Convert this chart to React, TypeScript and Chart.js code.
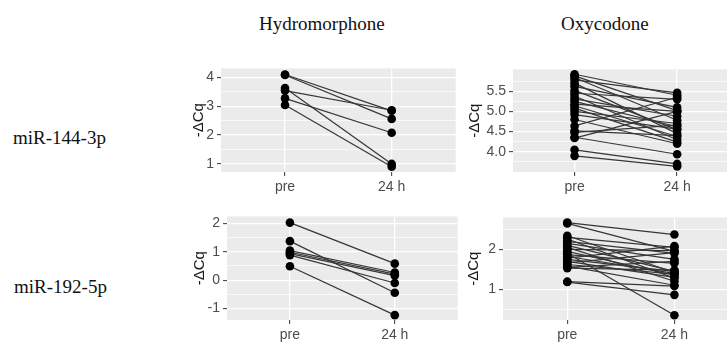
import React, { useEffect, useRef } from "react";
import { Chart, registerables } from "chart.js";
Chart.register(...registerables);

// ---- text ----
const timeLabels = ["pre", "24 h"];
const drugTitles = ["Hydromorphone", "Oxycodone"];
const mirnaLabels = ["miR-144-3p", "miR-192-5p"];
const yTitle = "-ΔCq";

// ---- data (paired: pre[i] -> post[i]) ----
const hydro144Pre = [4.10, 4.08, 3.63, 3.54, 3.27, 3.04];
const hydro144Post = [2.84, 2.56, 1.00, 2.86, 2.08, 0.90];

const oxy144Pre = [5.92, 5.88, 5.84, 5.78, 5.70, 5.62, 5.52, 5.45, 5.38, 5.31, 5.25, 5.18, 5.14, 5.08, 5.00, 4.92, 4.80, 4.64, 4.52, 4.48, 4.36, 4.34, 4.05, 3.90];
const oxy144Post = [5.40, 5.02, 4.78, 5.46, 4.45, 5.10, 4.55, 5.30, 4.30, 4.88, 4.62, 5.00, 4.38, 4.24, 4.70, 4.56, 4.20, 5.35, 4.40, 4.66, 3.94, 5.00, 3.70, 3.64];

const hydro192Pre = [2.02, 1.37, 1.04, 0.98, 0.93, 0.88, 0.49];
const hydro192Post = [0.58, -0.44, 0.27, 0.21, 0.16, -0.10, -1.23];

const oxy192Pre = [2.67, 2.65, 2.34, 2.30, 2.26, 2.20, 2.15, 2.10, 2.05, 2.00, 1.95, 1.90, 1.87, 1.82, 1.78, 1.75, 1.70, 1.66, 1.62, 1.58, 1.55, 1.53, 1.19, 1.18];
const oxy192Post = [2.37, 1.95, 1.42, 2.05, 1.28, 1.90, 1.75, 1.45, 1.20, 1.97, 1.35, 0.35, 1.65, 1.40, 2.08, 1.45, 1.30, 1.92, 1.38, 1.10, 1.70, 1.48, 1.08, 0.86];

// ---- axis ticks & limits ----
const hydro144Major = [1, 2, 3, 4];
const hydro144Minor = [1.5, 2.5, 3.5];
const hydro144Range = [0.72, 4.31];

const oxy144Major = [4.0, 4.5, 5.0, 5.5];
const oxy144Minor = [3.75, 4.25, 4.75, 5.25, 5.75];
const oxy144Range = [3.50, 6.04];

const hydro192Major = [-1, 0, 1, 2];
const hydro192Minor = [-0.5, 0.5, 1.5];
const hydro192Range = [-1.40, 2.24];

const oxy192Major = [1, 2];
const oxy192Minor = [0.5, 1.5, 2.5];
const oxy192Range = [0.23, 2.80];

const xPositions = [0, 1];
const xRange = [-0.6, 1.6];

const SANS = "'Liberation Sans', Arial, sans-serif";
const SERIF = "'Liberation Serif', 'Times New Roman', serif";

const panelBg = {
  id: "panelBg",
  beforeDraw(chart: any) {
    const { ctx, chartArea } = chart;
    ctx.save();
    ctx.fillStyle = "#EBEBEB";
    ctx.fillRect(chartArea.left, chartArea.top, chartArea.right - chartArea.left, chartArea.bottom - chartArea.top);
    ctx.restore();
  },
};

type PanelProps = {
  pre: number[];
  post: number[];
  major: number[];
  minor: number[];
  range: number[];
  decimals: number;
  left: number;
  top: number;
  width: number;
  height: number;
  axisW: number;
};

function Panel(p: PanelProps) {
  const ref = useRef<HTMLCanvasElement | null>(null);
  useEffect(() => {
    if (!ref.current) return;
    const lines = p.pre.map((v, i) => ({
      data: [
        { x: xPositions[0], y: v },
        { x: xPositions[1], y: p.post[i] },
      ],
      showLine: true,
      borderColor: "#363636",
      borderWidth: 1.2,
      pointRadius: 0,
    }));
    const pts = {
      data: [
        ...p.pre.map((v) => ({ x: xPositions[0], y: v })),
        ...p.post.map((v) => ({ x: xPositions[1], y: v })),
      ],
      showLine: false,
      pointRadius: 4.3,
      pointBackgroundColor: "#000",
      pointBorderColor: "#000",
      pointBorderWidth: 0,
    };
    const isMinor = (v: number) => p.minor.some((m) => Math.abs(m - v) < 1e-9);
    const chart = new Chart(ref.current, {
      type: "scatter",
      data: { datasets: [pts as any, ...lines] },
      plugins: [panelBg],
      options: {
        animation: false,
        responsive: false,
        devicePixelRatio: 1,
        events: [],
        layout: { padding: { top: 8, right: 2, left: 0, bottom: 0 } },
        plugins: { legend: { display: false }, tooltip: { enabled: false } },
        scales: {
          x: {
            type: "linear",
            min: xRange[0],
            max: xRange[1],
            afterBuildTicks: (scale: any) => {
              scale.ticks = xPositions.map((v) => ({ value: v }));
            },
            afterFit: (scale: any) => {
              scale.height = 30;
            },
            ticks: {
              autoSkip: false,
              maxRotation: 0,
              padding: 3,
              color: "#4D4D4D",
              font: { family: SANS, size: 14 },
              callback: (v: any) => timeLabels[xPositions.indexOf(Number(v))] ?? "",
            },
            grid: {
              color: "#FFFFFF",
              lineWidth: 1.3,
              drawTicks: true,
              tickLength: 4,
              tickColor: "#333333",
              tickWidth: 1,
            },
            border: { display: false },
          },
          y: {
            type: "linear",
            min: p.range[0],
            max: p.range[1],
            afterBuildTicks: (scale: any) => {
              scale.ticks = [...p.major, ...p.minor].sort((a, b) => a - b).map((v) => ({ value: v }));
            },
            afterFit: (scale: any) => {
              scale.width = p.axisW;
            },
            ticks: {
              autoSkip: false,
              padding: 3,
              color: "#4D4D4D",
              font: { family: SANS, size: 14 },
              callback: (v: any) => (isMinor(Number(v)) ? "" : Number(v).toFixed(p.decimals)),
            },
            grid: {
              color: "#FFFFFF",
              lineWidth: (ctx: any) => (isMinor(ctx.tick.value) ? 0.7 : 1.3),
              drawTicks: true,
              tickLength: 4,
              tickColor: (ctx: any) => (isMinor(ctx.tick.value) ? "rgba(0,0,0,0)" : "#333333"),
              tickWidth: 1,
            },
            border: { display: false },
            title: {
              display: true,
              text: yTitle,
              color: "#1a1a1a",
              font: { family: SANS, size: 15 },
              padding: { top: 0, bottom: 0 },
            },
          },
        },
      } as any,
    });
    return () => chart.destroy();
  }, []);
  return (
    <canvas
      ref={ref}
      width={p.width}
      height={p.height}
      style={{ position: "absolute", left: p.left, top: p.top, width: p.width, height: p.height }}
    />
  );
}

const textStyle: React.CSSProperties = {
  position: "absolute",
  fontFamily: SERIF,
  fontSize: 19,
  lineHeight: "19px",
  color: "#111",
  whiteSpace: "nowrap",
};

export default function App() {
  return (
    <div style={{ position: "absolute", left: 0, top: 0, width: 727, height: 342, overflow: "hidden", background: "#fff" }}>
      <div style={{ ...textStyle, left: 259, top: 13.5 }}>{drugTitles[0]}</div>
      <div style={{ ...textStyle, left: 561, top: 13.5 }}>{drugTitles[1]}</div>
      <div style={{ ...textStyle, left: 13, top: 127.5 }}>{mirnaLabels[0]}</div>
      <div style={{ ...textStyle, left: 14, top: 277 }}>{mirnaLabels[1]}</div>
      <Panel pre={hydro144Pre} post={hydro144Post} major={hydro144Major} minor={hydro144Minor} range={hydro144Range} decimals={0}
        left={190} top={57} width={270} height={145} axisW={31} />
      <Panel pre={oxy144Pre} post={oxy144Post} major={oxy144Major} minor={oxy144Minor} range={oxy144Range} decimals={1}
        left={466} top={58} width={277} height={144} axisW={47} />
      <Panel pre={hydro192Pre} post={hydro192Post} major={hydro192Major} minor={hydro192Minor} range={hydro192Range} decimals={0}
        left={191} top={205} width={271} height={145} axisW={36} />
      <Panel pre={oxy192Pre} post={oxy192Post} major={oxy192Major} minor={oxy192Minor} range={oxy192Range} decimals={0}
        left={465} top={206} width={278} height={144} axisW={38} />
    </div>
  );
}
